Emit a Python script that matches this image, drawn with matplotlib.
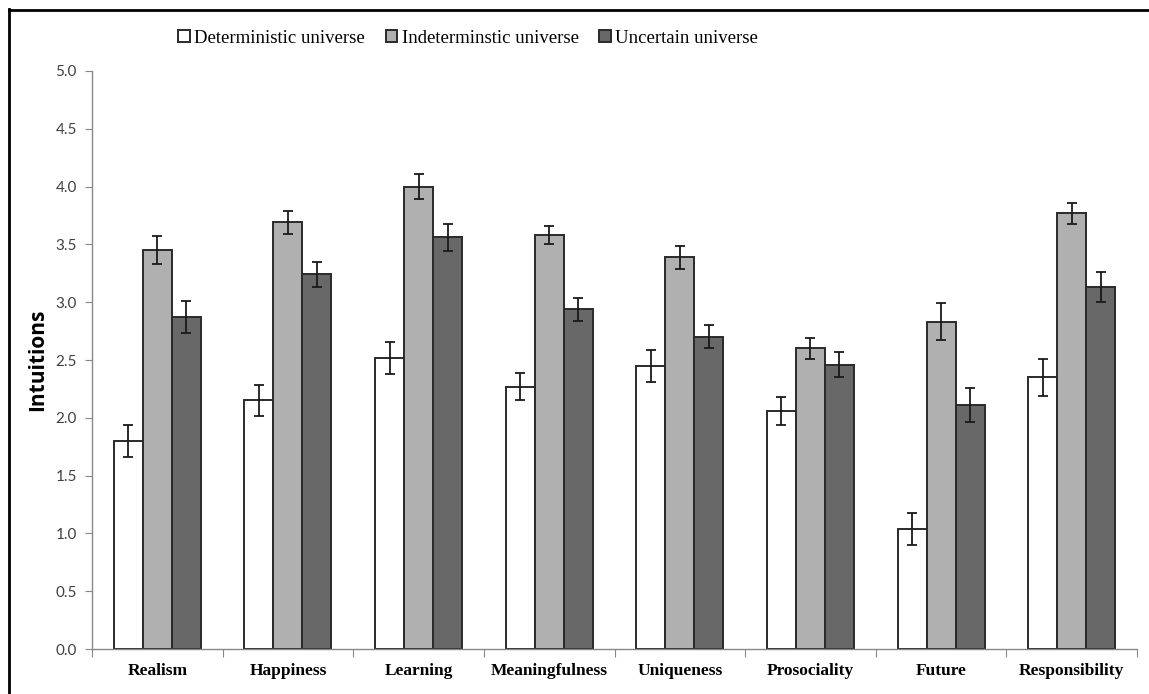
import numpy as np
import matplotlib
matplotlib.use('Agg')
import matplotlib.pyplot as plt
from matplotlib.lines import Line2D

categories = ['Realism', 'Happiness', 'Learning', 'Meaningfulness',
              'Uniqueness', 'Prosociality', 'Future', 'Responsibility']
series = ['Deterministic universe', 'Indeterminstic universe', 'Uncertain universe']

det = [1.80, 2.15, 2.52, 2.27, 2.45, 2.06, 1.04, 2.35]
det_err = [0.14, 0.13, 0.14, 0.12, 0.14, 0.12, 0.14, 0.16]
indet = [3.45, 3.69, 4.00, 3.58, 3.39, 2.60, 2.83, 3.77]
indet_err = [0.12, 0.10, 0.11, 0.08, 0.10, 0.09, 0.16, 0.09]
unc = [2.87, 3.24, 3.56, 2.94, 2.70, 2.46, 2.11, 3.13]
unc_err = [0.14, 0.11, 0.12, 0.10, 0.10, 0.11, 0.15, 0.13]

colors = ['#ffffff', '#b0b0b0', '#686868']

fig = plt.figure(figsize=(11.49, 6.94), dpi=100)
ax = fig.add_axes([0.0801, 0.0648, 0.9095, 0.8329])

x = np.arange(len(categories))
w = 0.222
values = [det, indet, unc]
errs = [det_err, indet_err, unc_err]
for i in range(3):
    ax.bar(x + (i - 1) * w, values[i], w, color=colors[i], edgecolor='#2a2a2a',
           linewidth=1.4, label=series[i], zorder=2)
    ax.errorbar(x + (i - 1) * w, values[i], yerr=errs[i], fmt='none',
                ecolor='#1a1a1a', elinewidth=1.3, capsize=3.5, capthick=1.3, zorder=3)

ax.set_xlim(-0.5, len(categories) - 0.5)
ax.set_ylim(0, 5)
ax.set_yticks(np.arange(0, 5.01, 0.5))
ax.set_yticklabels(['%.1f' % v for v in np.arange(0, 5.01, 0.5)],
                   fontsize=11, color='#404040', family='Lato')
ax.tick_params(axis='y', direction='out', length=5, color='#888888', pad=6)

ax.set_xticks(np.arange(-0.5, len(categories), 1.0))
ax.set_xticklabels([])
ax.tick_params(axis='x', which='major', direction='out', length=6, color='#888888')
ax.set_xticks(x, minor=True)
ax.set_xticklabels(categories, minor=True, fontsize=12.5, fontweight='bold',
                   family='Liberation Serif')
ax.tick_params(axis='x', which='minor', length=0, pad=10)

for s in ['top', 'right']:
    ax.spines[s].set_visible(False)
for s in ['left', 'bottom']:
    ax.spines[s].set_color('#888888')
    ax.spines[s].set_linewidth(1.0)

ax.set_ylabel('Intuitions', fontsize=15, fontweight='bold', family='Open Sans', labelpad=5)

leg = ax.legend(loc='center', bbox_to_anchor=(0.36, 1.057), ncol=3, frameon=False,
                prop={'family': 'Liberation Serif', 'size': 13.5},
                handlelength=0.6, handleheight=0.6, handletextpad=0.25, columnspacing=1.1)

# border lines of the figure panel
fig.add_artist(Line2D([0.0075, 0.0075], [0.0, 0.987], transform=fig.transFigure,
                      color='black', linewidth=2))
fig.add_artist(Line2D([0.0075, 1.0], [0.986, 0.986], transform=fig.transFigure,
                      color='black', linewidth=2))

plt.savefig('out.png', dpi=100)
